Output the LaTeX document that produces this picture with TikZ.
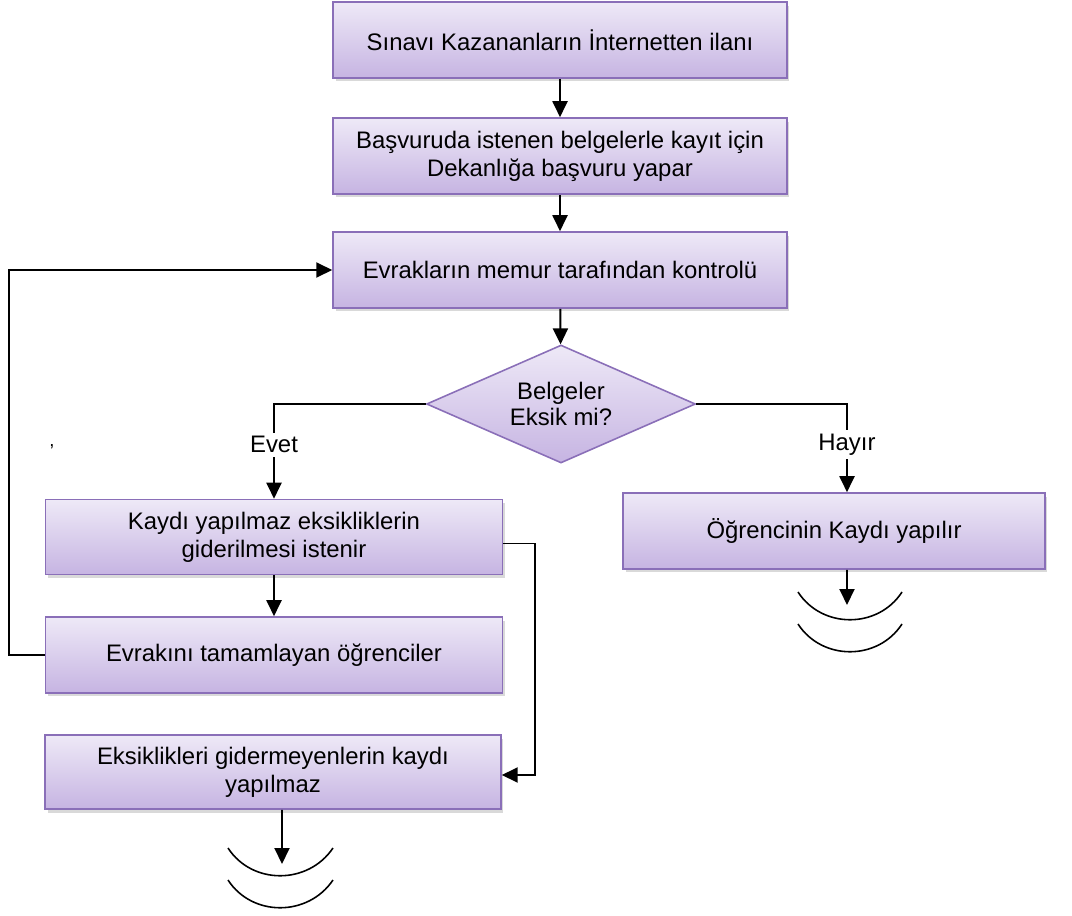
\documentclass[tikz,border=0pt]{standalone}
\usepackage{fontspec}
\setmainfont{Liberation Sans}
\usetikzlibrary{shapes.geometric,shadows,arrows.meta}

\definecolor{kutuust}{HTML}{EEE9F7}
\definecolor{kutualt}{HTML}{C6B4E2}
\definecolor{kutucizgi}{HTML}{8A6FB8}

\tikzset{
	kutu/.style={rectangle, draw=kutucizgi, line width=0.9pt, top color=kutuust, bottom color=kutualt,
		align=center, font=\fontsize{13.6}{16}\selectfont,
		drop shadow={shadow xshift=0.05cm, shadow yshift=-0.07cm, opacity=0.3}},
	karar/.style={diamond, draw=kutucizgi, line width=0.9pt, top color=kutuust, bottom color=kutualt,
		aspect=2.3, inner sep=0pt, minimum width=5.38cm, minimum height=2.36cm,
		align=center, font=\fontsize{13.6}{15}\selectfont},
	ok/.style={line width=1.1pt, -{Triangle[length=0.32cm,width=0.3cm]}},
	etiket/.style={fill=white, inner sep=2pt, font=\fontsize{13.6}{15}\selectfont},
	son/.style={line width=0.9pt}
}

\begin{document}
\begin{tikzpicture}[x=0.02cm, y=-0.02cm]
	\useasboundingbox (0,0) rectangle (1072,916);
	
	% Draw the boxes of the main column
	\node[kutu, minimum width=9.08cm, minimum height=1.52cm] (ilan) at (560,40) {Sınavı Kazananların İnternetten ilanı};
	\node[kutu, minimum width=9.08cm, minimum height=1.52cm] (basvuru) at (560,156) {Başvuruda istenen belgelerle kayıt için\\Dekanlığa başvuru yapar};
	\node[kutu, minimum width=9.08cm, minimum height=1.52cm] (kontrol) at (560,270) {Evrakların memur tarafından kontrolü};
	\node[karar] (soru) at (561,404) {Belgeler\\Eksik mi?};
	
	% Draw the two branches
	\node[kutu, minimum width=9.14cm, minimum height=1.5cm] (eksik) at (274,537) {Kaydı yapılmaz eksikliklerin\\giderilmesi istenir};
	\node[kutu, minimum width=9.14cm, minimum height=1.52cm] (tamam) at (274,655) {Evrakını tamamlayan öğrenciler};
	\node[kutu, minimum width=9.12cm, minimum height=1.48cm] (red) at (273,772) {Eksiklikleri gidermeyenlerin kaydı\\yapılmaz};
	\node[kutu, minimum width=8.44cm, minimum height=1.52cm] (kayit) at (834,531) {Öğrencinin Kaydı yapılır};
	\node[font=\fontsize{10.5}{12}\selectfont] (virgul) at (52,447) {,};
	
	% Draw arrows
	\draw[ok] (ilan) -- (basvuru);
	\draw[ok] (basvuru) -- (kontrol);
	\draw[ok] (kontrol) -- (soru);
	\draw[ok] (soru.west) -| (eksik.north) node[etiket, pos=0.715] {Evet};
	\draw[ok] (soru.east) -| ([xshift=0.26cm]kayit.north) node[etiket, pos=0.73] {Hayır};
	\draw[ok] (eksik) -- (tamam);
	\draw[ok] (tamam.west) -- ++(-36,0) |- (kontrol.west);
	\draw[ok] ([yshift=-0.13cm]eksik.east) -- ++(32,0) |- ([yshift=-0.06cm]red.east);
	
	% Draw end marks
	\coordinate (kayitSon) at (847,605);
	\coordinate (redSon) at (282,864);
	\draw[ok] ([xshift=0.26cm]kayit.south) -- (kayitSon);
	\draw[ok] ([xshift=0.18cm]red.south) -- (redSon);
	\foreach \y in {592,624}
	\draw[son] (798,\y) .. controls (822,\y+37) and (878,\y+37) .. (902,\y);
	\foreach \y in {848,880}
	\draw[son] (228,\y) .. controls (252,\y+37) and (308,\y+37) .. (333,\y);
	
\end{tikzpicture}
\end{document}
